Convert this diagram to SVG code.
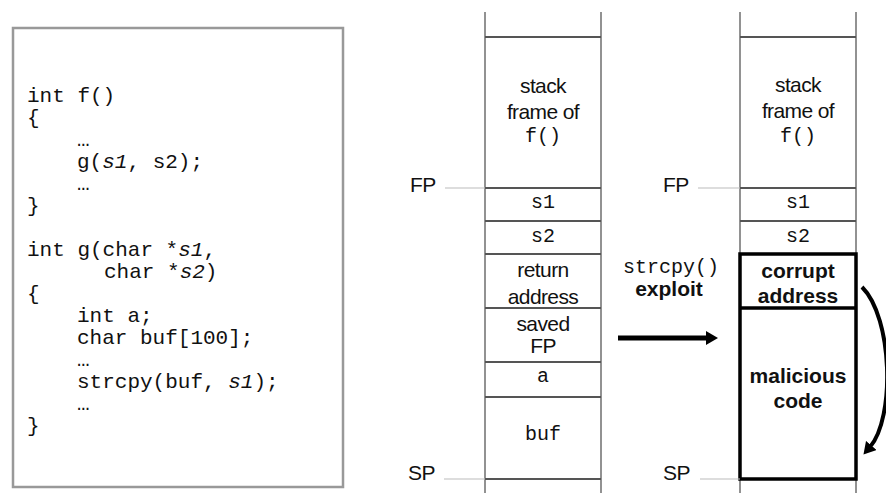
<svg xmlns="http://www.w3.org/2000/svg" width="886" height="493" viewBox="0 0 886 493">
  <defs>
    <marker id="headRight" viewBox="0 0 12 14" refX="2" refY="7" markerWidth="12" markerHeight="14" markerUnits="userSpaceOnUse" orient="auto">
      <path d="M0,0 L12,7 L0,14 Z" fill="#000"/>
    </marker>
    <marker id="headCurve" viewBox="0 0 12 14" refX="2" refY="7" markerWidth="12" markerHeight="14" markerUnits="userSpaceOnUse" orient="auto">
      <path d="M0,0 L12,7 L0,14 Z" fill="#000"/>
    </marker>
  </defs>
  <style>
    .code { font-family: "Liberation Mono", "Courier New", monospace; font-size: 21px; fill: #111; }
    .mono { font-family: "Liberation Mono", "Courier New", monospace; font-size: 20px; fill: #111; text-anchor: middle; }
    .sans { font-family: "Liberation Sans", Arial, sans-serif; font-size: 21px; letter-spacing: -0.6px; fill: #111; text-anchor: middle; }
    .bold { font-family: "Liberation Sans", Arial, sans-serif; font-size: 21px; font-weight: bold; fill: #111; text-anchor: middle; }
    .ptr { font-family: "Liberation Sans", Arial, sans-serif; font-size: 21px; letter-spacing: -0.6px; fill: #111; }
    .it { font-style: italic; }
    .rail { stroke: #777; stroke-width: 1.6; fill: none; }
    .rule { stroke: #555; stroke-width: 1.8; fill: none; }
    .tick { stroke: #bbb; stroke-width: 1.2; fill: none; }
    .thick { stroke: #000; stroke-width: 3.5; fill: none; }
  </style>
  <rect width="886" height="493" fill="#fff"/>

  <!-- source code listing -->
  <g id="code">
    <rect x="13" y="28" width="330" height="459" fill="#fff" stroke="#999" stroke-width="2.5"/>
    <text class="code" x="27" y="102">int f()</text>
    <text class="code" x="27" y="124">{</text>
    <text class="code" x="77" y="146">…</text>
    <text class="code" x="77" y="168">g(<tspan class="it">s1</tspan>, s2);</text>
    <text class="code" x="77" y="190">…</text>
    <text class="code" x="27" y="212">}</text>
    <text class="code" x="27" y="256">int g(char *<tspan class="it">s1</tspan>,</text>
    <text class="code" x="104" y="278">char *<tspan class="it">s2</tspan>)</text>
    <text class="code" x="27" y="300">{</text>
    <text class="code" x="77" y="322">int a;</text>
    <text class="code" x="77" y="344">char buf[100];</text>
    <text class="code" x="77" y="366">…</text>
    <text class="code" x="77" y="388">strcpy(buf, <tspan class="it">s1</tspan>);</text>
    <text class="code" x="77" y="410">…</text>
    <text class="code" x="27" y="432">}</text>
  </g>

  <!-- stack before the overflow -->
  <g id="stack-normal">
    <line class="rail" x1="485" y1="12" x2="485" y2="493"/>
    <line class="rail" x1="601" y1="12" x2="601" y2="493"/>
    <line class="rule" x1="485" y1="37" x2="601" y2="37"/>
    <line class="rule" x1="485" y1="188" x2="601" y2="188"/>
    <line class="rule" x1="485" y1="221" x2="601" y2="221"/>
    <line class="rule" x1="485" y1="254" x2="601" y2="254"/>
    <line class="rule" x1="485" y1="308" x2="601" y2="308" stroke="#111"/>
    <line class="rule" x1="485" y1="362" x2="601" y2="362" stroke="#111"/>
    <line class="rule" x1="485" y1="397" x2="601" y2="397"/>
    <line class="rule" x1="485" y1="479" x2="601" y2="479"/>
    <text class="sans" x="543" y="93">stack</text>
    <text class="sans" x="543" y="119">frame of</text>
    <text class="mono" x="543" y="142" font-size="18">f()</text>
    <text class="mono" x="543" y="208">s1</text>
    <text class="mono" x="543" y="242">s2</text>
    <text class="sans" x="543" y="277">return</text>
    <text class="sans" x="543" y="304">address</text>
    <text class="sans" x="543" y="331">saved</text>
    <text class="sans" x="543" y="353">FP</text>
    <text class="mono" x="543" y="382">a</text>
    <text class="mono" x="543" y="440">buf</text>
    <line class="tick" x1="445" y1="188" x2="485" y2="188"/>
    <text class="ptr" x="410" y="192">FP</text>
    <line class="tick" x1="444" y1="479" x2="485" y2="479"/>
    <text class="ptr" x="408" y="480">SP</text>
  </g>

  <!-- exploit label -->
  <g id="exploit-label">
    <text class="mono" x="671" y="273" font-size="21">strcpy()</text>
    <text class="bold" x="669" y="296">exploit</text>
  </g>

  <!-- stack after the overflow -->
  <g id="stack-corrupt">
    <line class="rail" x1="740" y1="12" x2="740" y2="493"/>
    <line class="rail" x1="856" y1="12" x2="856" y2="493"/>
    <line class="rule" x1="740" y1="37" x2="856" y2="37"/>
    <line class="rule" x1="740" y1="188" x2="856" y2="188"/>
    <line class="rule" x1="740" y1="221" x2="856" y2="221"/>
    <rect class="thick" x="740" y="254" width="116" height="225"/>
    <line class="thick" x1="740" y1="308" x2="856" y2="308"/>
    <text class="sans" x="798" y="92">stack</text>
    <text class="sans" x="798" y="118">frame of</text>
    <text class="mono" x="798" y="142" font-size="18">f()</text>
    <text class="mono" x="798" y="208">s1</text>
    <text class="mono" x="798" y="242">s2</text>
    <text class="bold" x="798" y="278">corrupt</text>
    <text class="bold" x="798" y="303">address</text>
    <text class="bold" x="798" y="383">malicious</text>
    <text class="bold" x="798" y="408">code</text>
    <line class="tick" x1="698" y1="188" x2="740" y2="188"/>
    <text class="ptr" x="663" y="192">FP</text>
    <line class="tick" x1="700" y1="479" x2="740" y2="479"/>
    <text class="ptr" x="663" y="480">SP</text>
  </g>

  <!-- connectors -->
  <g id="connectors">
    <line x1="618" y1="338" x2="708" y2="338" stroke="#000" stroke-width="5" marker-end="url(#headRight)"/>
    <path d="M862,287 C893,318 895,418 870,447" fill="none" stroke="#000" stroke-width="4" marker-end="url(#headCurve)"/>
  </g>
</svg>
